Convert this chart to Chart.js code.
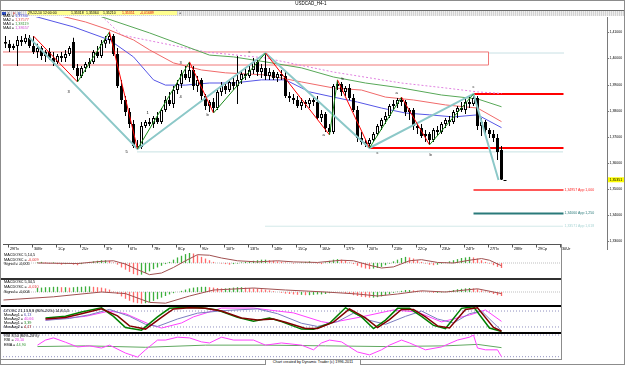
<!DOCTYPE html>
<html lang="ru">
<head>
<meta charset="UTF-8">
<title>USDCAD_H4-1</title>
<script src="https://cdn.jsdelivr.net/npm/chart.js"></script>
<style>
  body { margin: 0; background: #fff; font-family: "Liberation Sans", Arial, sans-serif; }
  #frame { position: relative; width: 625px; height: 365px; overflow: hidden; background: #fff; }
  canvas, .ln, .txt { position: absolute; }
  .txt { font-size: 3.8px; line-height: 4px; white-space: nowrap; color: #000; }
</style>
</head>
<body>
<div id="frame">
  <canvas id="main" width="622" height="236" style="left:3px;top:17px"></canvas>
  <canvas id="p1" width="558" height="26" style="left:3px;top:252px"></canvas>
  <canvas id="p2" width="558" height="25" style="left:3px;top:280px"></canvas>
  <canvas id="p3" width="558" height="25" style="left:3px;top:307px"></canvas>
  <canvas id="p4" width="558" height="25" style="left:3px;top:334px"></canvas>

  <!-- frame, title bar, toolbar -->
  <div class="ln" style="left:0;top:0;width:623px;height:363px;border:1px solid #8c8c8c"></div>
  <div class="txt" style="left:0;width:622px;top:2px;text-align:center;font-size:4.5px">USDCAD_H4-1</div>
  <div class="ln" style="left:1px;top:10px;width:623px;height:1px;background:#666"></div>
  <div class="ln" style="left:1px;top:11px;width:623px;height:5px;background:repeating-linear-gradient(90deg,#d2d2d2 0 1px,#eeeeee 1px 2px)"></div>
  <div class="ln" style="left:2px;top:12px;width:4px;height:3px;background:#3050c0"></div>
  <div class="txt" style="left:8px;top:11.5px">L</div>
  <div class="txt" style="left:13px;top:11.5px;color:#d02020">F</div>
  <div class="txt" style="left:18px;top:11.5px;color:#2040c0">R</div>
  <div class="ln" style="left:27px;top:11px;width:150px;height:4px;background:#ffff90"></div>
  <div class="txt" style="left:28px;top:11.3px;font-size:3.5px">29-12-10 12:00:00</div>
  <div class="txt" style="left:71px;top:11.3px;font-size:3.5px">1,35318</div>
  <div class="txt" style="left:86px;top:11.3px;font-size:3.5px">1,35364</div>
  <div class="txt" style="left:103px;top:11.3px;font-size:3.5px">1,35210</div>
  <div class="txt" style="left:122px;top:11.3px;font-size:3.5px;color:#e00000">1,35351</div>
  <div class="txt" style="left:140px;top:11.3px;font-size:3.5px;color:#e00000">-0,01689</div>
  <div class="txt" style="left:179px;top:11.3px">+</div>

  <!-- moving average legend -->
  <div class="txt" style="left:3px;top:14px">MA1 = <span style="color:#4a4ae0">1,37347</span></div>
  <div class="txt" style="left:3px;top:18px">MA2 = <span style="color:#e04848">1,37577</span></div>
  <div class="txt" style="left:3px;top:22px">MA3 = <span style="color:#3a963a">1,38119</span></div>
  <div class="txt" style="left:3px;top:26px">MA4 = <span style="color:#d050d0">1,38657</span></div>

  <!-- panel separators -->
  <div class="ln" style="left:1px;top:278px;width:560px;height:2px;background:#303030"></div>
  <div class="ln" style="left:1px;top:305px;width:560px;height:2px;background:#000"></div>
  <div class="ln" style="left:1px;top:332px;width:560px;height:2px;background:#000"></div>
  <div class="ln" style="left:1px;top:359px;width:560px;height:1px;background:#8c8c8c"></div>
  <div class="ln" style="left:561px;top:244px;width:1px;height:116px;background:#8c8c8c"></div>

  <!-- panel legends -->
  <div class="txt" style="left:4px;top:253px;line-height:4.6px">MACDOSC 5,14,5<br>MACDOSC = <span style="color:#e03030">-0,009</span><br>Signal = -0,005</div>
  <div class="txt" style="left:4px;top:280px;line-height:5px">MACDOSC 5,34,5<br>MACDOSC = <span style="color:#e03030">-0,010</span><br>Signal = -0,004</div>
  <div class="txt" style="left:4px;top:308.5px;line-height:4.2px">DTOSC 21,13,8,8 (80%-20%) 14,8,5,3<br>MovAvg1 = <span style="color:#5050b0">6,13</span><br>MovAvg2 = <span style="color:#e030e0">40,66</span><br>MovAvg1 = <span style="color:#208020">3,39</span><br>MovAvg2 = <span style="color:#a02020">4,17</span></div>
  <div class="txt" style="left:4px;top:334px;line-height:4.3px">RSI 8,50 (80%-20%)<br>RSI = <span style="color:#e030e0">20,10</span><br>EMA = <span style="color:#3a963a">44,90</span></div>

  <!-- footer -->
  <div class="txt" style="left:265px;top:358.5px;width:94px;height:5px;border:1px solid #8c8c8c;text-align:center;line-height:5px;background:#fff">Chart created by Dynamic Trader (c) 1996-2011</div>
</div>

<script>
// ---- candles (H4) ----
const candleOpen = [
  1.4063,1.4056,1.4040,1.4048,1.4071,1.4063,1.4079,1.4048,1.4025,1.4040,
  1.4010,1.4025,1.4002,1.3987,1.4010,1.4002,1.4017,1.4063,1.3964,1.3933,
  1.3964,1.3979,1.3987,1.4025,1.4010,1.4056,1.4071,1.4086,1.4017,1.3895,
  1.3841,1.3795,1.3749,1.3665,1.3661,1.3741,1.3757,1.3749,1.3772,1.3757,
  1.3803,1.3841,1.3826,1.3879,1.3902,1.3941,1.3925,1.3956,1.3895,1.3918,
  1.3856,1.3818,1.3833,1.3810,1.3872,1.3895,1.3879,1.3910,1.3895,1.3918,
  1.3941,1.3933,1.3956,1.3987,1.3948,1.3964,1.3933,1.3948,1.3925,1.3941,
  1.3933,1.3856,1.3849,1.3841,1.3818,1.3833,1.3826,1.3841,1.3833,1.3772,
  1.3787,1.3734,1.3718,1.3895,1.3902,1.3872,1.3887,1.3849,1.3803,1.3695,
  1.3680,1.3672,1.3688,1.3711,1.3741,1.3764,1.3780,1.3818,1.3826,1.3841,
  1.3833,1.3795,1.3803,1.3741,1.3734,1.3703,1.3711,1.3688,1.3726,1.3718,
  1.3749,1.3764,1.3757,1.3795,1.3810,1.3803,1.3833,1.3826,1.3849,1.3741,
  1.3757,1.3726,1.3711,1.3695,1.3649
];
const candleHigh = [
  1.4086,1.4071,1.4056,1.4086,1.4086,1.4094,1.4090,1.4086,1.4056,1.4048,
  1.4033,1.4040,1.4025,1.4017,1.4025,1.4033,1.4048,1.4079,1.3979,1.3971,
  1.3987,1.4002,1.4033,1.4048,1.4071,1.4086,1.4102,1.4094,1.4040,1.3918,
  1.3856,1.3810,1.3764,1.3688,1.3757,1.3764,1.3772,1.3780,1.3795,1.3810,
  1.3856,1.3872,1.3895,1.3918,1.3956,1.3971,1.3987,1.3971,1.3933,1.3925,
  1.3864,1.3841,1.3849,1.3879,1.3910,1.3902,1.3918,1.3925,1.4010,1.3956,
  1.3964,1.3971,1.4002,1.3994,1.3979,1.4021,1.3964,1.3956,1.3948,1.3956,
  1.3948,1.3872,1.3864,1.3856,1.3849,1.3841,1.3849,1.3856,1.3856,1.3803,
  1.3795,1.3749,1.3902,1.3918,1.3910,1.3895,1.3902,1.3864,1.3818,1.3718,
  1.3688,1.3695,1.3718,1.3749,1.3772,1.3795,1.3826,1.3841,1.3849,1.3852,
  1.3841,1.3810,1.3810,1.3757,1.3749,1.3726,1.3718,1.3734,1.3741,1.3757,
  1.3772,1.3780,1.3803,1.3818,1.3833,1.3849,1.3856,1.3864,1.3856,1.3772,
  1.3764,1.3734,1.3726,1.3711,1.3665
];
const candleLow = [
  1.4040,1.4025,1.4033,1.3971,1.4048,1.4056,1.4040,1.4017,1.4002,1.3994,
  1.3987,1.3994,1.3971,1.3979,1.3987,1.3987,1.4010,1.3956,1.3910,1.3925,
  1.3948,1.3964,1.3979,1.4002,1.4002,1.4040,1.4056,1.4010,1.3887,1.3826,
  1.3780,1.3734,1.3657,1.3653,1.3653,1.3734,1.3741,1.3734,1.3749,1.3749,
  1.3795,1.3818,1.3810,1.3864,1.3887,1.3918,1.3910,1.3879,1.3872,1.3841,
  1.3803,1.3795,1.3791,1.3803,1.3856,1.3864,1.3872,1.3879,1.3826,1.3902,
  1.3918,1.3925,1.3941,1.3933,1.3925,1.3918,1.3918,1.3918,1.3910,1.3918,
  1.3849,1.3833,1.3826,1.3810,1.3803,1.3810,1.3810,1.3818,1.3764,1.3757,
  1.3718,1.3707,1.3711,1.3879,1.3856,1.3856,1.3841,1.3795,1.3680,1.3669,
  1.3661,1.3657,1.3680,1.3703,1.3726,1.3749,1.3772,1.3803,1.3810,1.3818,
  1.3780,1.3764,1.3726,1.3711,1.3695,1.3680,1.3669,1.3680,1.3703,1.3711,
  1.3734,1.3741,1.3749,1.3772,1.3795,1.3787,1.3810,1.3818,1.3726,1.3703,
  1.3711,1.3695,1.3680,1.3611,1.3534
];
const candleClose = [
  1.4056,1.4040,1.4048,1.4071,1.4063,1.4079,1.4048,1.4025,1.4040,1.4010,
  1.4025,1.4002,1.3987,1.4010,1.4002,1.4017,1.4040,1.3964,1.3933,1.3964,
  1.3979,1.3987,1.4025,1.4010,1.4056,1.4071,1.4086,1.4017,1.3895,1.3841,
  1.3795,1.3749,1.3665,1.3661,1.3741,1.3757,1.3749,1.3772,1.3757,1.3803,
  1.3841,1.3826,1.3879,1.3902,1.3941,1.3925,1.3956,1.3895,1.3918,1.3856,
  1.3818,1.3833,1.3810,1.3872,1.3895,1.3879,1.3910,1.3895,1.3918,1.3941,
  1.3933,1.3956,1.3987,1.3948,1.3964,1.3933,1.3948,1.3925,1.3941,1.3933,
  1.3856,1.3849,1.3841,1.3818,1.3833,1.3826,1.3841,1.3833,1.3772,1.3787,
  1.3734,1.3718,1.3895,1.3902,1.3872,1.3887,1.3849,1.3803,1.3695,1.3680,
  1.3672,1.3688,1.3711,1.3741,1.3764,1.3780,1.3818,1.3826,1.3841,1.3833,
  1.3795,1.3803,1.3741,1.3734,1.3703,1.3711,1.3688,1.3726,1.3718,1.3749,
  1.3764,1.3757,1.3795,1.3810,1.3803,1.3833,1.3826,1.3849,1.3741,1.3757,
  1.3726,1.3711,1.3695,1.3642,1.3535
];
const lastPrice = 1.35351;

// moving averages, read at sample bars: [bar, price]
const ma1 = [[7,1.4163],[17,1.4121],[26,1.4071],[32,1.4006],[37,1.3918],[40,1.3898],[45,1.3898],[51,1.3906],[57,1.3906],[64,1.3918],[70,1.3918],[76,1.3872],[82,1.3852],[88,1.3833],[94,1.3810],[100,1.3791],[106,1.3784],[112,1.3776],[118,1.3784],[124,1.3735]];
const ma2 = [[12,1.4170],[20,1.4140],[26,1.4109],[32,1.4071],[36,1.4033],[42,1.3983],[49,1.3956],[55,1.3945],[65,1.3937],[74,1.3910],[82,1.3887],[89,1.3879],[95,1.3852],[102,1.3841],[110,1.3822],[118,1.3810],[124,1.3758]];
const ma3 = [[19,1.4186],[36,1.4098],[51,1.4013],[57,1.4006],[65,1.3987],[74,1.3964],[82,1.3929],[90,1.3906],[99,1.3887],[109,1.3860],[118,1.3845],[124,1.3815]];
const ma4 = [[24,1.4163],[29,1.4090],[39,1.4059],[50,1.4025],[65,1.4002],[82,1.3948],[99,1.3906],[110,1.3887],[118,1.3872],[124,1.3866]];

// wave pivots and larger-degree swings
const zigzag = [[7,1.4086],[18,1.3910],[26,1.4102],[33,1.3653],[46,1.3987],[52,1.3791],[65,1.4021],[81,1.3707],[83,1.3918],[91,1.3657],[99,1.3852],[106,1.3669],[117,1.3864]];
const swings = [[6,1.4079],[33,1.3653],[65,1.4021],[91,1.3657],[117,1.3864],[123.25,1.3534]];
const waveLabels = [[15.75,1.3872,'3'],[30.25,1.3642,'5'],[35.5,1.3791,'1'],[43.75,1.3983,'3'],[43.75,1.3852,'4'],[50.5,1.3784,'b'],[61,1.4025,'c'],[79.5,1.3707,'a'],[84.25,1.3921,'b'],[93,1.3638,'c'],[97.75,1.3868,'a'],[106.25,1.3630,'b'],[117,1.3891,'c']];

// horizontal levels: zone box, support/resistance, projections
const zoneBox = [1.4025, 1.3975];
const zoneEnd = 120.75;
const levelPrices = [1.4021, 1.3864, 1.3657, 1.3642];
const levelStarts = [120.75, 117, 91, 33];
const projPrices = [1.34957, 1.34060, 1.33571];
const projStarts = [117, 117, 65];
const projRatios = ['1,000', '1,250', '1,618'];
const levelEnd = 139.5;

const priceTicks = [1.33, 1.34, 1.35, 1.36, 1.37, 1.38, 1.39, 1.40, 1.41];
const dayLabels = ['29Пн','30Вт','1Ср','2Чт','3Пт','6Пн','7Вт','8Ср','9Чт','10Пт','13Пн','14Вт','15Ср','16Чт','17Пт','20Пн','21Вт','22Ср','23Чт','24Пт','27Пн','28Вт','29Ср','30Чт'];
const barsPerDay = 6;
const dayTickStart = 0.5;

// ---- indicators ----
const histStart = 8;
const macd1Hist = [
  0.001,0.002,0.001,-0.001,0.001,-0.002,-0.003,-0.002,-0.001,-0.003,-0.004,
  -0.002,0,0.002,0.003,0.004,0.005,0.005,0.004,0.001,-0.003,-0.008,-0.012,
  -0.016,-0.020,-0.022,-0.021,-0.018,-0.015,-0.011,-0.008,-0.005,-0.002,
  0.002,0.006,0.010,0.013,0.016,0.018,0.017,0.014,0.011,0.008,0.005,0.002,0,-0.001,-0.002,
  -0.003,-0.002,-0.001,0.001,0.002,0.003,0.004,0.005,0.006,
  0.006,0.005,0.004,0.003,0.002,0.001,0,-0.001,0,0.001,
  0.002,0.003,0.001,-0.001,-0.002,0.001,0.004,0.006,
  0.007,0.006,0.004,0.001,-0.002,-0.005,-0.008,-0.010,-0.011,-0.010,-0.009,-0.007,
  -0.004,-0.001,0.003,0.006,0.009,0.011,0.010,0.008,0.005,0.002,-0.001,-0.003,
  -0.004,-0.003,-0.001,0.001,0.003,0.005,0.007,0.009,0.010,0.011,0.010,0.008,
  0.005,0.002,-0.001,-0.004,-0.007,-0.009
];
const macd1Signal = [[8,0],[18,-0.001],[24,0.003],[27,0.004],[30,-0.002],[33,-0.012],[36,-0.021],[39,-0.018],[42,-0.008],[45,0.004],[48,0.015],[51,0.014],[54,0.009],[58,0.004],[63,0.002],[68,0.004],[72,0.002],[78,0.001],[84,0.005],[87,0.004],[91,-0.004],[94,-0.009],[97,-0.007],[101,0.004],[104,0.006],[108,0.001],[112,0],[116,0.005],[119,0.008],[121,0.005],[124,-0.005]];
const macd2Hist = [
  0.010,0.011,0.012,0.012,0.013,0.013,0.012,0.012,0.011,0.012,0.013,0.013,0.014,0.014,0.013,0.012,0.011,0.009,
  0.006,0.001,-0.005,-0.011,-0.017,-0.022,-0.026,-0.028,-0.029,
  -0.028,-0.025,-0.022,-0.018,-0.014,-0.010,
  -0.006,-0.003,0,0.003,0.006,0.009,0.011,
  0.012,0.013,0.013,0.012,0.011,0.010,0.009,0.009,0.010,0.011,0.012,0.012,0.011,
  0.010,0.009,0.008,0.007,0.006,0.004,0.002,0,-0.002,-0.004,
  -0.005,-0.006,-0.007,-0.007,-0.008,-0.008,-0.007,-0.006,-0.006,-0.005,-0.003,-0.001,
  0,-0.001,-0.003,-0.005,-0.008,-0.010,-0.012,-0.013,-0.014,-0.014,-0.013,-0.011,
  -0.008,-0.005,-0.002,0.001,0.003,0.005,0.005,0.004,0.003,0.002,
  0,-0.001,-0.002,-0.002,-0.001,0.001,0.003,0.005,
  0.007,0.008,0.009,0.010,0.009,0.007,
  0.004,0.001,-0.002,-0.005,-0.008,-0.010
];
const macd2Signal = [[-0.5,-0.020],[12,-0.012],[24,0],[30,-0.004],[36,-0.026],[40,-0.028],[46,-0.010],[52,0.005],[62,0.010],[70,0.005],[80,0],[88,-0.005],[93,-0.010],[98,-0.005],[104,0.003],[110,0],[118,0.008],[124,-0.004]];

const dtGreen = [[10,54],[15,60],[19,76],[24,92],[27,60],[30,18],[34,8],[38,58],[41,90],[45,94],[49,92],[53,84],[58,56],[62,42],[66,54],[69,40],[74,12],[77,11],[81,34],[85,92],[89,58],[92,14],[95,46],[98,90],[101,90],[104,60],[107,26],[110,14],[114,90],[117,96],[121,16],[124,3]];
const dtRed = [[10,50],[15,56],[19,70],[24,88],[28,62],[31,24],[35,12],[39,56],[42,88],[46,92],[50,90],[54,80],[59,54],[63,46],[67,50],[70,38],[75,14],[78,14],[82,38],[86,88],[90,54],[93,18],[96,48],[99,86],[102,86],[105,58],[108,24],[111,16],[115,86],[118,92],[122,18],[124,4]];
const dtBlue = [[10,45],[16,52],[21,66],[26,86],[31,60],[35,30],[38,22],[43,50],[48,72],[55,82],[63,88],[68,70],[74,34],[78,22],[83,40],[87,72],[91,45],[95,30],[100,60],[104,80],[108,50],[112,35],[116,70],[119,80],[124,6]];
const dtMagenta = [[10,46],[20,60],[26,80],[30,70],[36,30],[39,16],[44,35],[47,58],[54,91],[62,91],[68,80],[72,73],[79,40],[81,35],[89,58],[97,84],[103,76],[109,39],[116,65],[120,84],[124,41]];
const dtBands = [80, 20];

const rsiLine = [[8,52],[10,66],[12,72],[15,60],[18,47],[21,50],[24,44],[26,52],[30,30],[33,19],[35,39],[38,66],[40,66],[43,74],[46,72],[49,61],[51,58],[54,74],[57,66],[62,66],[65,52],[69,58],[74,52],[77,39],[79,58],[81,66],[84,61],[88,33],[91,25],[94,39],[96,52],[99,66],[101,58],[105,39],[109,47],[113,66],[116,74],[117,80],[118,44],[120,39],[123,39],[124,20]];
const rsiEma = [[8,48],[20,50],[35,46],[50,52],[65,52],[80,50],[95,48],[110,50],[118,54],[124,45]];
const rsiBands = [80, 20];

// ---- layout ----
const X_MIN = -0.625;
const MAIN_SPAN = 151;   // 604px / 4px per bar
const SUB_SPAN = 139.5;  // 558px / 4px per bar
const FONT = '"Liberation Sans", Arial, sans-serif';
const fmt = (v, d) => v.toFixed(d).replace('.', ',');
const pts = arr => arr.map(([x, y]) => ({ x, y }));

function lineSet(data, color, width, extra) {
  return Object.assign({
    type: 'line', data, borderColor: color, borderWidth: width,
    pointRadius: 0, tension: 0, fill: false, spanGaps: true, order: 4
  }, extra || {});
}
function hline(value, from, to, color, width, dash, order) {
  return lineSet([{ x: from, y: value }, { x: to, y: value }], color, width, { borderDash: dash || [], order: order || 5 });
}

const bars = candleClose.map((_, i) => i);

const mainDecor = {
  id: 'mainDecor',
  afterDraw(chart) {
    const { ctx, chartArea: a, scales: { x, y } } = chart;
    ctx.save();
    ctx.lineWidth = 1;
    ctx.strokeStyle = '#7a7a7a';
    ctx.beginPath();
    ctx.moveTo(a.right + 0.5, a.top - 2);
    ctx.lineTo(a.right + 0.5, a.bottom + 6);
    ctx.stroke();

    ctx.font = '3.5px ' + FONT;
    ctx.textBaseline = 'middle';
    ctx.textAlign = 'left';
    priceTicks.forEach(p => {
      const py = Math.round(y.getPixelForValue(p)) + 0.5;
      ctx.beginPath(); ctx.moveTo(a.right, py); ctx.lineTo(a.right + 2, py); ctx.stroke();
      ctx.fillStyle = '#000';
      ctx.fillText(fmt(p, 5), a.right + 2.5, py);
    });
    const ly = y.getPixelForValue(lastPrice);
    ctx.fillStyle = '#ffff00';
    ctx.fillRect(a.right + 1, ly - 2.5, 17, 5);
    ctx.fillStyle = '#000';
    ctx.fillText(fmt(lastPrice, 5), a.right + 2.5, ly);

    // last-price marker beside the final bar
    const lx = x.getPixelForValue(bars.length - 1);
    ctx.strokeStyle = '#000';
    ctx.beginPath(); ctx.moveTo(lx + 2, Math.round(ly) + 0.5); ctx.lineTo(lx + 5, Math.round(ly) + 0.5); ctx.stroke();

    // date axis
    const xEnd = x.getPixelForValue(X_MIN + SUB_SPAN);
    const by = a.bottom + 0.5;
    ctx.strokeStyle = '#555';
    ctx.beginPath(); ctx.moveTo(a.left, by); ctx.lineTo(xEnd, by); ctx.stroke();
    ctx.font = '3.8px ' + FONT;
    dayLabels.forEach((lab, k) => {
      const tx = Math.round(x.getPixelForValue(dayTickStart + k * barsPerDay)) + 0.5;
      ctx.beginPath(); ctx.moveTo(tx, by); ctx.lineTo(tx, by + 3); ctx.stroke();
      ctx.fillText(lab, tx + 1.5, by + 4.5);
    });

    // projection labels
    const projColors = ['#ff2020', '#2a7a7a', '#a8d4d4'];
    ctx.font = '3.5px ' + FONT;
    projPrices.forEach((p, k) => {
      ctx.fillStyle = projColors[k];
      ctx.fillText(fmt(p, 5) + ' App ' + projRatios[k], x.getPixelForValue(levelEnd) + 1, y.getPixelForValue(p));
    });

    // wave labels
    ctx.fillStyle = '#000';
    ctx.textAlign = 'center';
    ctx.font = '4px ' + FONT;
    waveLabels.forEach(([i, p, t]) => ctx.fillText(t, x.getPixelForValue(i), y.getPixelForValue(p)));
    ctx.restore();
  }
};

const baseOptions = (span, yMin, yMax, padding) => ({
  animation: false,
  responsive: false,
  events: [],
  layout: { padding },
  plugins: { legend: { display: false }, tooltip: { enabled: false } },
  scales: {
    x: { type: 'linear', min: X_MIN, max: X_MIN + span, display: false, offset: false },
    y: { type: 'linear', min: yMin, max: yMax, display: false }
  }
});

new Chart(document.getElementById('main'), {
  type: 'bar',
  data: {
    datasets: [
      lineSet(pts(zigzag), '#ff0000', 1, {
        order: 0,
        segment: { borderColor: c => c.p1.parsed.y > c.p0.parsed.y ? '#1a8a1a' : '#ff0000' }
      }),
      lineSet(pts(swings), '#8cc8c8', 2, { order: 1 }),
      {
        type: 'bar', order: 2, grouped: false, barThickness: 3,
        data: bars.map(i => ({ x: i, y: [candleOpen[i], candleClose[i]] })),
        backgroundColor: bars.map(i => candleClose[i] >= candleOpen[i] ? '#ffffff' : '#000000'),
        borderColor: '#000', borderWidth: 1, borderSkipped: false, inflateAmount: 0
      },
      {
        type: 'bar', order: 3, grouped: false, barThickness: 1,
        data: bars.map(i => ({ x: i, y: [candleLow[i], candleHigh[i]] })),
        backgroundColor: '#000', borderWidth: 0, inflateAmount: 0
      },
      lineSet(pts(ma1), '#5656e6', 1),
      lineSet(pts(ma2), '#f06a6a', 1),
      lineSet(pts(ma3), '#58a858', 1),
      lineSet(pts(ma4), '#e080e0', 1, { borderDash: [2, 2] }),
      lineSet([{ x: X_MIN - 1, y: zoneBox[0] }, { x: zoneEnd, y: zoneBox[0] }, { x: zoneEnd, y: zoneBox[1] }, { x: X_MIN - 1, y: zoneBox[1] }], '#f07878', 1, { order: 5 }),
      hline(levelPrices[0], levelStarts[0], levelEnd, '#90c0c8', 1, [1, 1]),
      hline(levelPrices[1], levelStarts[1], levelEnd, '#ff0000', 2),
      hline(levelPrices[2], levelStarts[2], levelEnd, '#ff0000', 2),
      hline(levelPrices[3], levelStarts[3], levelEnd, '#90c4c8', 1, [1, 1]),
      hline(projPrices[0], projStarts[0], levelEnd, '#ff2020', 1.5),
      hline(projPrices[1], projStarts[1], levelEnd, '#2a7a7a', 2),
      hline(projPrices[2], projStarts[2], levelEnd, '#a8d4d4', 1, [1, 1])
    ]
  },
  options: baseOptions(MAIN_SPAN, 1.3289, 1.4159, { left: 0, top: 0, right: 18, bottom: 9 }),
  plugins: [mainDecor]
});

// histogram colour: green while the oscillator rises, red while it falls
function histSet(values) {
  return {
    type: 'bar', order: 3, grouped: false, barThickness: 1.3, inflateAmount: 0,
    data: values.map((v, k) => ({ x: histStart + k, y: v })),
    backgroundColor: c => (c.dataIndex > 0 && values[c.dataIndex] < values[c.dataIndex - 1]) ? 'rgb(255,105,105)' : 'rgb(60,175,60)',
    borderWidth: 0
  };
}
function panel(id, yMin, yMax, datasets) {
  new Chart(document.getElementById(id), {
    type: 'bar',
    data: { datasets },
    options: baseOptions(SUB_SPAN, yMin, yMax, 0)
  });
}
const subEnd = X_MIN + SUB_SPAN;

panel('p1', -0.027, 0.0198, [
  hline(0, X_MIN, subEnd, '#c0c0c0', 1, [1, 1]),
  histSet(macd1Hist),
  lineSet(pts(macd1Signal), '#a05050', 1, { order: 1 })
]);
panel('p2', -0.0325, 0.03, [
  hline(0, X_MIN, subEnd, '#c0c0c0', 1, [1, 1]),
  histSet(macd2Hist),
  lineSet(pts(macd2Signal), '#a05050', 1, { order: 1 })
]);
panel('p3', 1.1, 95.1, [
  hline(dtBands[0], X_MIN, subEnd, '#9090c0', 1, [1, 2]),
  hline(dtBands[1], X_MIN, subEnd, '#9090c0', 1, [1, 2]),
  lineSet(pts(dtMagenta), '#ff40ff', 1, { order: 3 }),
  lineSet(pts(dtBlue), '#7c7cc0', 1, { order: 2 }),
  lineSet(pts(dtGreen), '#008000', 1.5, { order: 1 }),
  lineSet(pts(dtRed), '#800000', 1.5, { order: 0 })
]);
panel('p4', 13.6, 82.8, [
  hline(rsiBands[0], X_MIN, subEnd, '#9090c0', 1, [1, 2]),
  hline(rsiBands[1], X_MIN, subEnd, '#9090c0', 1, [1, 2]),
  lineSet(pts(rsiEma), '#60a860', 1, { order: 2 }),
  lineSet(pts(rsiLine), '#ff40ff', 1, { order: 1 })
]);
</script>
</body>
</html>
